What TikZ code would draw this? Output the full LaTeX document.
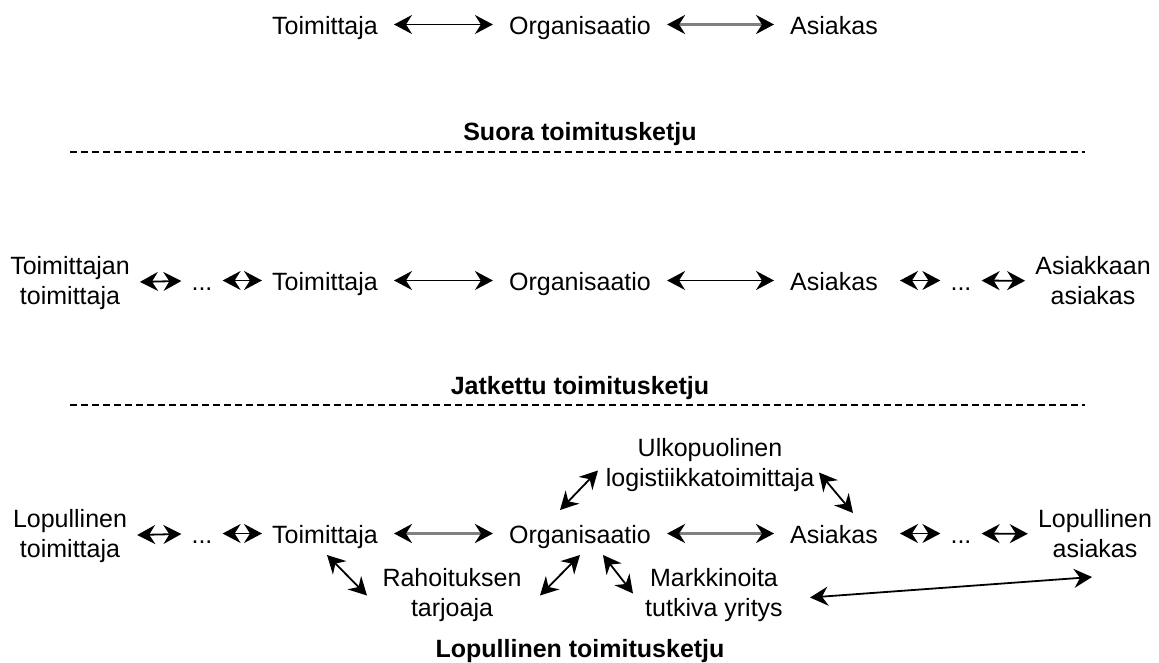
\documentclass[tikz,border=0pt]{standalone}
\usepackage{fontspec}
\setmainfont{Liberation Sans}
\usetikzlibrary{arrows.meta}

\begin{document}
\begin{tikzpicture}[x=1pt, y=-1pt,
  >={Stealth[length=18pt, width=19pt, inset=6pt]},
  every node/.style={inner sep=0pt, font=\fontsize{25}{30}\selectfont},
  lbl/.style={anchor=base, text height=21pt, text depth=2pt},
  lbl2/.style={align=center},
  ttl/.style={anchor=base, font=\fontsize{25}{30}\selectfont\bfseries},
  link/.style={<->, line width=1.8pt, shorten <=16pt, shorten >=16pt},
  glink/.style={{Stealth[length=18pt, width=19pt, inset=6pt, color=black]}-{Stealth[length=18pt, width=19pt, inset=6pt, color=black]}, draw=black!50, line width=3pt, shorten <=16pt, shorten >=16pt},
  short/.style={<->, line width=1.8pt, shorten <=10pt, shorten >=10pt},
  diag/.style={<->, line width=1.8pt},
  sep/.style={dash pattern=on 7pt off 4pt, line width=1.3pt}]
\useasboundingbox (0,0) rectangle (1159,662);

\node[name=toim_1, lbl] at (325,34) {Toimittaja};
\node[name=org_1, lbl] at (580,34) {Organisaatio};
\node[name=asi_1, lbl] at (834,34) {Asiakas};
\node[name=title_1, ttl] at (580,140) {Suora toimitusketju};

\node[name=toim_2a, lbl2] at (70,283.5) {Toimittajan\\toimittaja};
\node[name=dots_2a, lbl] at (202,290) {...};
\node[name=toim_2, lbl] at (325,290) {Toimittaja};
\node[name=org_2, lbl] at (580,290) {Organisaatio};
\node[name=asi_2, lbl] at (834,290) {Asiakas};
\node[name=dots_2b, lbl] at (961,290) {...};
\node[name=asi_2b, lbl2] at (1093,281) {Asiakkaan\\asiakas};
\node[name=title_2, ttl] at (580,394) {Jatkettu toimitusketju};

\node[name=lop_3a, lbl2] at (70,536.5) {Lopullinen\\toimittaja};
\node[name=dots_3a, lbl] at (202,543) {...};
\node[name=toim_3, lbl] at (325,543) {Toimittaja};
\node[name=org_3, lbl] at (580,543) {Organisaatio};
\node[name=asi_3, lbl] at (834,543) {Asiakas};
\node[name=dots_3b, lbl] at (961,543) {...};
\node[name=lop_3b, lbl2] at (1095,534) {Lopullinen\\asiakas};
\node[name=ulk_3, lbl2] at (710,465.5) {Ulkopuolinen\\logistiikkatoimittaja};
\node[name=rah_3, lbl2] at (452,595.5) {Rahoituksen\\tarjoaja};
\node[name=mark_3, lbl2] at (714,595.5) {Markkinoita\\tutkiva yritys};
\node[name=title_3, ttl] at (580,657) {Lopullinen toimitusketju};

\draw[sep] (70,152) -- (1085,152);
\draw[sep] (70,405) -- (1085,405);

\draw(toim_1.east) edge[link](org_1.west);
\draw(org_1.east) edge[glink](asi_1.west);

\draw(toim_2a) edge[short](dots_2a);
\draw(dots_2a.east) edge[short](toim_2.west);
\draw(toim_2.east) edge[link](org_2.west);
\draw(org_2.east) edge[link](asi_2.west);
\draw(asi_2.east) edge[short, shorten <=22pt](dots_2b.west);
\draw(dots_2b) edge[short](asi_2b);

\draw(lop_3a) edge[short](dots_3a);
\draw(dots_3a.east) edge[short](toim_3.west);
\draw(toim_3.east) edge[glink](org_3.west);
\draw(org_3.east) edge[glink](asi_3.west);
\draw(asi_3.east) edge[short, shorten <=22pt](dots_3b.west);
\draw(dots_3b) edge[short](lop_3b);

\draw([shift={(2,12)}]toim_3.base) edge[diag]([shift={(-85,0)}]rah_3.center);
\draw([shift={(88,0)}]rah_3.center) edge[diag]([shift={(0,12)}]org_3.base);
\draw([shift={(-20,-33)}]org_3.base) edge[diag]([shift={(-112,5)}]ulk_3.center);
\draw([shift={(109,7)}]ulk_3.center) edge[diag]([shift={(19,-30)}]asi_3.base);
\draw([shift={(23,12)}]org_3.base) edge[diag]([shift={(-81,-2)}]mark_3.center);
\draw([shift={(96,2)}]mark_3.center) edge[diag]([shift={(-3,43)}]lop_3b.center);
\end{tikzpicture}
\end{document}
